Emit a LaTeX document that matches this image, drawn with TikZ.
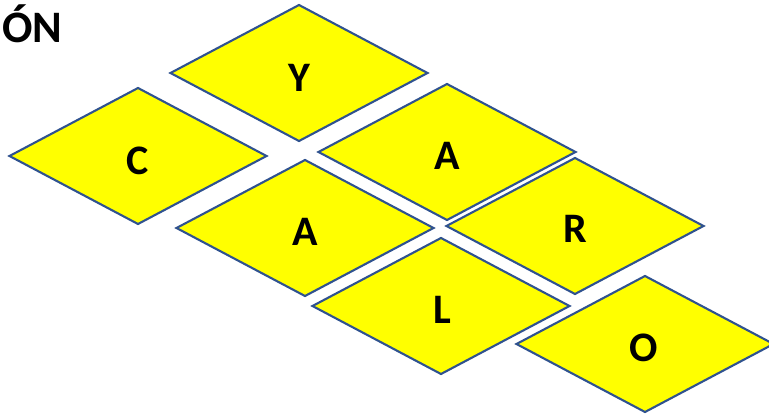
\documentclass[tikz,border=0pt]{standalone}
\usepackage{fontspec}
\setmainfont{Carlito}
\usetikzlibrary{shapes.geometric}
\definecolor{tileyellow}{RGB}{255,255,0}
\definecolor{tileblue}{RGB}{47,82,143}
\tikzset{
  tile/.style={diamond, draw=tileblue, fill=tileyellow, line width=2.1pt,
    minimum width=257pt, minimum height=136pt, inner sep=0pt, outer sep=0pt},
  letter/.style={font=\fontsize{42}{42}\selectfont\bfseries, inner sep=0pt}
}
\begin{document}
\begin{tikzpicture}[x=1pt,y=-1pt]
\useasboundingbox (0,0) rectangle (769,414);
\node[tile] (dY) at (299,73) {};
\node[tile] (dC) at (138,156) {};
\node[tile] (dA1) at (447,152) {};
\node[tile] (dA2) at (305,228) {};
\node[tile] (dR) at (575,226) {};
\node[tile] (dL) at (441,306) {};
\node[tile] (dO) at (645,344) {};
\node[letter] (tY) at (299,78) {Y};
\node[letter] (tC) at (138,161) {C};
\node[letter] (tA1) at (447,156) {A};
\node[letter] (tA2) at (305,232) {A};
\node[letter] (tR) at (575,229) {R};
\node[letter] (tL) at (442,310) {L};
\node[letter] (tO) at (644,348) {O};
\node[font=\fontsize{45}{45}\selectfont\bfseries, inner sep=0pt, anchor=base west] (ton) at (2,43) {ÓN};
\end{tikzpicture}
\end{document}
